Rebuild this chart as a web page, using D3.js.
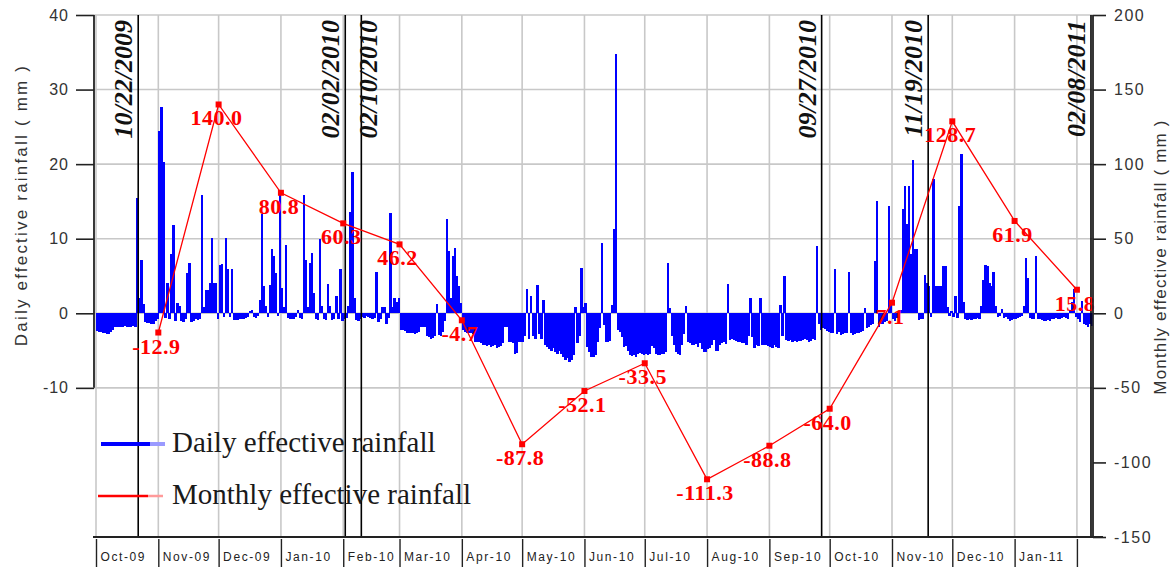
<!DOCTYPE html>
<html><head><meta charset="utf-8">
<script src="https://cdn.jsdelivr.net/npm/d3@7"></script>
<style>html,body{margin:0;padding:0;background:#fff;}svg{display:block;}</style>
</head><body>
<svg id="chart" width="1176" height="569"></svg>
<script>
// ---------- DATA ----------
const startDate = "2009-10-01";
const endDate = "2011-02-09";
const dailyOct09 = [-2.4,-2.5,-2.5,-2.6,-2.6,-2.8,-2.8,-2.5,-2.2,-1.9,-1.8,-1.9,-1.8,-1.8,-1.7,-1.8,-1.8,-1.8,-1.7,-1.8,15.5,2.0,7.2,1.2,-1.2,-1.3,-1.3,-1.4,-1.4,-1.0,-0.8];
const dailyNov09 = [24.5,27.7,20.3,-0.6,4.1,-0.8,8.0,11.8,-1.0,1.4,1.0,-1.0,-1.2,-0.8,5.4,6.7,-1.2,-1.0,-0.8,-0.9,-0.8,15.8,0.8,3.1,3.1,4.0,10.1,4.1,4.1,-0.8];
const dailyDec09 = [6.5,6.6,-0.5,10.1,5.9,-0.5,5.9,-0.9,-0.9,-0.9,-0.8,-0.8,-0.7,-0.6,-0.5,0.3,0.4,-0.5,-0.6,-0.4,1.8,13.3,3.6,1.0,-0.5,3.8,8.6,7.7,5.4,-0.4,15.8];
const dailyJan10 = [3.4,0.9,9.1,-0.6,-0.7,-0.8,-0.8,-0.5,0.5,-0.6,-0.7,15.9,7.2,0.8,6.8,8.1,2.7,-0.8,-0.9,10.0,1.0,-0.8,-0.9,3.9,1.0,-0.9,-0.8,2.3,-0.7,5.9,-1.0];
const dailyFeb10 = [-0.8,-0.6,1.0,13.6,19.0,2.0,-0.9,-1.0,-0.8,-0.5,-0.6,-0.4,-0.5,-0.6,-0.7,-0.6,5.6,-1.2,-0.8,0.9,0.9,-1.4,-0.6,13.4,0.8,2.0,1.5,2.0];
const dailyMar10 = [-2.2,-2.3,-2.4,-2.7,-2.7,-2.6,-2.7,-2.8,-2.7,-2.5,-1.8,-1.9,-1.8,-3.0,-3.2,-3.4,-3.3,-3.0,1.2,-2.9,-3.1,-2.5,-1.0,12.6,8.3,2.0,7.7,8.8,5.0,3.6,1.4];
const dailyApr10 = [-2.2,-2.5,-2.6,-2.6,-2.7,-2.8,-3.8,-3.9,-3.8,-4.0,-4.3,-4.2,-4.4,-4.3,-4.5,-4.4,-4.3,-4.6,-4.5,-4.4,-4.0,-1.8,-1.9,-3.8,-3.9,-4.0,-5.4,-5.3,-3.9,-3.8];
const dailyMay10 = [-3.8,-3.0,3.2,-3.5,2.3,-3.0,-3.5,3.8,-2.8,-3.5,1.8,-4.2,-4.5,-4.8,-5.0,-4.6,-5.2,-5.5,-5.0,-5.4,-5.8,-6.2,-6.0,-6.5,-6.3,-5.6,0.9,-4.0,-3.0,6.1,0.8];
const dailyJun10 = [1.4,-4.5,-5.2,-5.8,-5.9,-5.6,-3.8,-2.0,9.4,-1.6,-3.8,-3.9,-3.7,1.1,11.3,34.8,-2.3,-2.5,-3.2,-4.5,-4.4,-5.0,-5.6,-5.7,-5.6,-5.8,-5.5,-5.3,-5.4,-5.6];
const dailyJul10 = [-5.5,-5.6,-5.5,-4.4,-4.6,-5.5,-5.6,-5.6,-5.5,-5.4,-5.2,6.8,0.7,-3.0,-4.3,-5.2,-5.5,-5.6,-4.2,-2.8,1.0,-3.8,-4.0,-4.2,-4.3,-4.1,-4.5,-4.0,-4.8,-5.2,-5.2];
const dailyAug10 = [-4.8,-4.6,-4.3,-3.6,-5.0,-5.0,-4.2,-4.0,-3.9,-4.1,3.9,-3.6,-3.5,-3.6,-3.7,-3.8,-3.9,-4.0,-4.0,-4.2,-3.0,2.0,-3.2,-4.7,-4.3,-4.4,2.0,-4.3,-4.2,-4.3,-4.4];
const dailySep10 = [-4.5,-4.6,-4.3,-4.5,-4.6,1.1,-3.0,5.0,-3.6,-3.7,-3.6,-3.8,-3.7,-3.8,-3.7,-3.7,-3.6,-3.5,-3.6,-3.8,-3.7,-3.5,-3.6,9.0,-1.5,-2.3,-2.0,-2.1,-2.4,-2.5];
const dailyOct10 = [-2.7,-2.6,5.9,-2.8,-2.5,-2.9,-2.8,-2.7,-2.6,5.6,-2.7,-2.9,-2.8,-2.7,-2.6,-2.5,-2.4,0.7,-2.0,-1.8,-1.6,-1.5,7.0,15.0,-1.8,-1.5,-1.4,-1.2,-1.0,14.4,1.3];
const dailyNov10 = [-0.8,-1.0,-0.6,-0.9,0.5,14.0,17.1,12.0,17.1,8.0,20.6,8.6,8.6,-0.9,-0.7,-0.8,5.2,4.0,3.6,-0.5,18.0,3.6,3.6,3.6,3.6,6.3,6.3,0.8,-0.4,0.3];
const dailyDec10 = [-0.5,2.3,-0.6,14.4,21.3,1.5,-0.8,-0.9,-0.8,-0.9,-0.8,-0.7,-0.6,-0.7,1.0,4.5,6.5,6.3,4.0,3.6,5.5,1.0,-0.5,-0.4,0.6,-0.6,-0.5,-0.8,-1.0,-0.9,-0.8];
const dailyJan11 = [-0.7,-0.6,-0.5,-0.4,1.0,7.4,4.7,-0.6,-0.7,-0.8,7.7,-0.8,-0.7,-0.9,-1.1,-1.0,-0.9,-1.0,-0.8,-0.7,-0.6,-0.7,-0.8,-0.6,-0.5,-0.6,-0.7,0.5,1.5,3.2,-0.5];
const dailyFeb11 = [-0.8,-1.2,1.6,-1.5,-1.6,-1.8,-1.5,-1.7];

const monthlyDates = ["2009-11-01","2009-12-01","2010-01-01","2010-02-01","2010-03-01","2010-04-01","2010-05-01","2010-06-01","2010-07-01","2010-08-01","2010-09-01","2010-10-01","2010-11-01","2010-12-01","2011-01-01","2011-02-01"];
const monthlyValues = [-12.9,140.0,80.8,60.3,46.2,-4.7,-87.8,-52.1,-33.5,-111.3,-88.8,-64.0,7.1,128.7,61.9,15.8];

const eventDates = ["2009-10-22","2010-02-02","2010-02-10","2010-09-27","2010-11-19","2011-02-08"];
const eventLabels = ["10/22/2009","02/02/2010","02/10/2010","09/27/2010","11/19/2010","02/08/2011"];

const monthStarts = ["2009-10-01","2009-11-01","2009-12-01","2010-01-01","2010-02-01","2010-03-01","2010-04-01","2010-05-01","2010-06-01","2010-07-01","2010-08-01","2010-09-01","2010-10-01","2010-11-01","2010-12-01","2011-01-01","2011-02-01"];
const monthLabels = ["Oct-09","Nov-09","Dec-09","Jan-10","Feb-10","Mar-10","Apr-10","May-10","Jun-10","Jul-10","Aug-10","Sep-10","Oct-10","Nov-10","Dec-10","Jan-11"];

const leftTicks = [40,30,20,10,0,-10];
const rightTicks = [200,150,100,50,0,-50,-100,-150];
const seriesNames = ["Daily effective rainfall","Monthly effective rainfall"];
const leftTitle = "Daily effective rainfall ( mm )";
const rightTitle = "Monthly effective rainfall ( mm )";

// ---------- BUILD ----------
(function(){
const parse = d3.timeParse("%Y-%m-%d");
const loc = d3.formatLocale({decimal:".", thousands:",", grouping:[3], currency:["",""], minus:"-"});
const fInt = loc.format("d"), f1 = loc.format(".1f");
const daily = [].concat(dailyOct09,dailyNov09,dailyDec09,dailyJan10,dailyFeb10,dailyMar10,dailyApr10,dailyMay10,dailyJun10,dailyJul10,dailyAug10,dailySep10,dailyOct10,dailyNov10,dailyDec10,dailyJan11,dailyFeb11);
const d0 = parse(startDate);
const dailyData = daily.map((v,i)=>({date:d3.timeDay.offset(d0,i), value:v}));
const monthly = monthlyDates.map((d,i)=>({date:parse(d), value:monthlyValues[i]}));

const svg = d3.select("#chart");
const yTop = 15, yBot = 537, leftX = 94, rightX = 1093;
const x = d3.scaleTime().domain([parse(startDate), parse(endDate)]).range([96, 1093]);
const yL = d3.scaleLinear().domain([-30,40]).range([yBot, yTop]);
const yR = d3.scaleLinear().domain([-150,200]).range([yBot, yTop]);

svg.append("rect").attr("width",1176).attr("height",569).attr("fill","#fff");

// gridlines
const grid = svg.append("g").attr("stroke","#c8c8c8").attr("stroke-width",1.6);
grid.selectAll("line.h").data(leftTicks).join("line").attr("class","h")
  .attr("x1",leftX).attr("x2",rightX).attr("y1",d=>yL(d)).attr("y2",d=>yL(d));
grid.selectAll("line.v").data(monthStarts.map(parse)).join("line").attr("class","v")
  .attr("x1",d=>x(d)).attr("x2",d=>x(d)).attr("y1",yTop).attr("y2",yBot);

// daily bars
svg.append("g").attr("fill","#0000ff").attr("shape-rendering","crispEdges")
  .selectAll("rect").data(dailyData).join("rect")
  .attr("x",d=>x(d.date))
  .attr("width",d=>Math.max(1, x(d3.timeDay.offset(d.date,1)) - x(d.date) + 0.3))
  .attr("y",d=>yL(Math.max(0,d.value)))
  .attr("height",d=>Math.abs(yL(d.value)-yL(0)));

// event lines
const ev = eventDates.map((d,i)=>({date:parse(d), label:eventLabels[i]}));
svg.append("g").attr("stroke","#000").attr("stroke-width",1.6)
  .selectAll("line").data(ev).join("line")
  .attr("x1",d=>x(d.date)).attr("x2",d=>x(d.date)).attr("y1",yTop).attr("y2",yBot);
svg.append("g").selectAll("text").data(ev).join("text")
  .attr("transform",(d,i)=>{
    const px = x(d.date);
    const close = i>0 && (px - x(ev[i-1].date)) < 25;
    const bx = close ? px + 16 : px - 6;
    return `translate(${bx},20) rotate(-90)`;
  })
  .attr("text-anchor","end")
  .style("font-family","'Liberation Serif','Times New Roman',serif")
  .style("font-weight","bold").style("font-style","italic")
  .style("font-size","26px").attr("fill","#111")
  .text(d=>d.label);

// monthly line
svg.append("path").datum(monthly)
  .attr("fill","none").attr("stroke","#ff0000").attr("stroke-width",1.3)
  .attr("d", d3.line().x(d=>x(d.date)).y(d=>yR(d.value)));
svg.append("g").attr("fill","#ff0000").selectAll("rect").data(monthly).join("rect")
  .attr("x",d=>x(d.date)-3).attr("y",d=>yR(d.value)-3).attr("width",6).attr("height",6);
svg.append("g").selectAll("text").data(monthly).join("text")
  .attr("x",d=>x(d.date)-2).attr("y",d=>yR(d.value)+21)
  .attr("text-anchor","middle")
  .style("font-family","'Liberation Serif','Times New Roman',serif")
  .style("font-weight","bold").style("font-size","22px").style("letter-spacing","0.5px")
  .attr("fill","#ff0000")
  .text(d=>f1(d.value));

// left axis
const gL = svg.append("g").attr("transform",`translate(${leftX},0)`)
  .call(d3.axisLeft(yL).tickValues(leftTicks).tickSize(18).tickPadding(7).tickFormat(fInt));
gL.select(".domain").remove();
gL.selectAll(".tick line").attr("stroke","#222").attr("stroke-width",1.6);
gL.selectAll(".tick text").style("font-family","'Liberation Sans',Arial,sans-serif")
  .style("font-size","16px").style("letter-spacing","1px").attr("fill","#333");
svg.append("line").attr("x1",leftX).attr("x2",leftX).attr("y1",yL(40)).attr("y2",yL(-10))
  .attr("stroke","#222").attr("stroke-width",1.8);

// right axis
const gR = svg.append("g").attr("transform",`translate(${rightX},0)`)
  .call(d3.axisRight(yR).tickValues(rightTicks).tickSize(13).tickPadding(8).tickFormat(fInt));
gR.select(".domain").remove();
gR.selectAll(".tick line").attr("stroke","#222").attr("stroke-width",1.6);
gR.selectAll(".tick text").style("font-family","'Liberation Sans',Arial,sans-serif")
  .style("font-size","16px").style("letter-spacing","1.5px").attr("fill","#333");
svg.append("line").attr("x1",rightX).attr("x2",rightX).attr("y1",yTop).attr("y2",yBot)
  .attr("stroke","#222").attr("stroke-width",1.8);

// bottom axis with month boxes
const gB = svg.append("g").attr("transform",`translate(0,${yBot})`)
  .call(d3.axisBottom(x).tickValues(monthStarts.map(parse)).tickSize(30)
    .tickFormat((d,i)=>monthLabels[i]||""));
gB.select(".domain").remove();
gB.selectAll(".tick line").attr("stroke","#222").attr("stroke-width",1.4).attr("y1",2);
gB.selectAll(".tick text").attr("x",4).attr("y",24).attr("dy",0).attr("text-anchor","start")
  .style("font-family","'Liberation Sans',Arial,sans-serif")
  .style("font-size","12px").style("letter-spacing","1.6px").attr("fill","#222");
svg.append("line").attr("x1",leftX-1).attr("x2",rightX+10).attr("y1",yBot).attr("y2",yBot)
  .attr("stroke","#222").attr("stroke-width",1.8);

// axis titles
svg.append("text").attr("transform",`translate(27,205) rotate(-90)`).attr("text-anchor","middle")
  .style("font-family","'Liberation Sans',Arial,sans-serif").style("font-size","17px")
  .style("letter-spacing","2.2px").attr("fill","#333").text(leftTitle);
svg.append("text").attr("transform",`translate(1166,257) rotate(-90)`).attr("text-anchor","middle")
  .style("font-family","'Liberation Sans',Arial,sans-serif").style("font-size","17px")
  .style("letter-spacing","1.2px").attr("fill","#333").text(rightTitle);

// legend
const lg = svg.append("g");
lg.append("line").attr("x1",101).attr("x2",150).attr("y1",444).attr("y2",444).attr("stroke","#0000ff").attr("stroke-width",4);
lg.append("line").attr("x1",150).attr("x2",165).attr("y1",444).attr("y2",444).attr("stroke","#9a9aff").attr("stroke-width",4);
lg.append("line").attr("x1",98).attr("x2",148).attr("y1",496).attr("y2",496).attr("stroke","#ff0000").attr("stroke-width",2.5);
lg.append("line").attr("x1",148).attr("x2",163).attr("y1",496).attr("y2",496).attr("stroke","#ff9a9a").attr("stroke-width",2.5);
lg.selectAll("text").data(seriesNames).join("text")
  .attr("x",172).attr("y",(d,i)=>i===0?452:504)
  .style("font-family","'Liberation Serif','Times New Roman',serif").style("font-size","29px")
  .attr("fill","#1a1a1a").text(d=>d);
})();
</script>
</body></html>
